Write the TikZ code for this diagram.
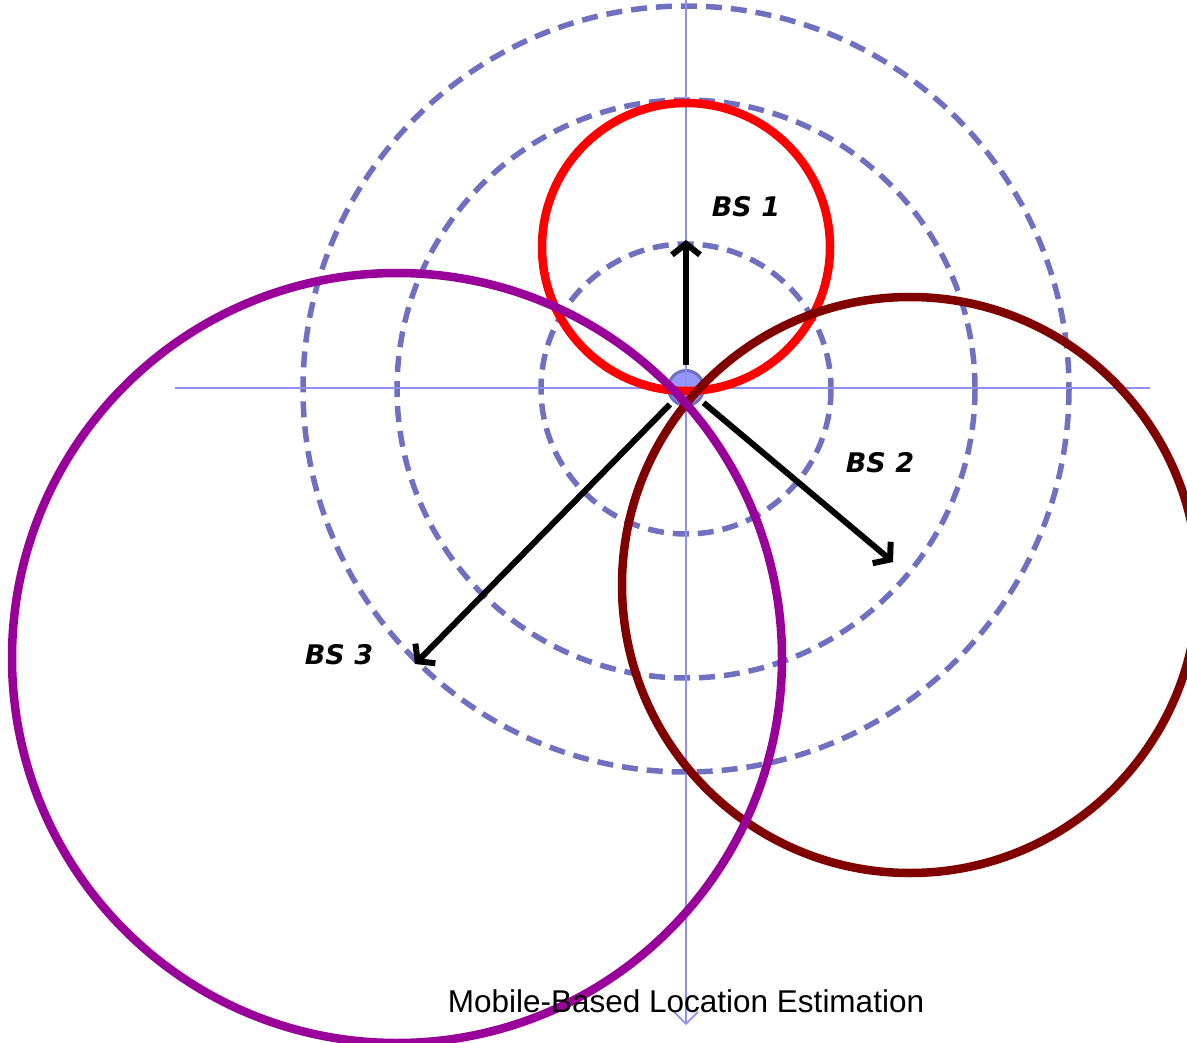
\documentclass[tikz,border=0pt]{standalone}
\usepackage{fontspec}
\setmainfont{Liberation Sans}
\newfontfamily\bsfont{DejaVu Sans}
\usetikzlibrary{arrows.meta,positioning}

\definecolor{ringblue}{RGB}{112,112,192}
\definecolor{axisblue}{RGB}{144,144,240}
\definecolor{dotblue}{RGB}{150,150,250}
\definecolor{bsred}{RGB}{255,0,0}
\definecolor{bsmaroon}{RGB}{128,0,0}
\definecolor{bspurple}{RGB}{153,0,153}

\begin{document}
\begin{tikzpicture}[x=1pt, y=-1pt,
    axis/.style={draw=axisblue, line width=1.6pt},
    ring/.style={draw=ringblue, line width=5.5pt, dash pattern=on 16pt off 9pt},
    bsrange/.style={line width=8.5pt},
    vec/.style={-{Straight Barb[length=11pt,width=28pt]}, line width=6pt, draw=black, shorten <=4pt},
    bslabel/.style={font=\bsfont\bfseries\itshape\fontsize{27}{32}\selectfont},
    title/.style={font=\fontsize{31.5}{36}\selectfont},
]

\useasboundingbox (0,0) rectangle (1187,1043);
\clip (0,0) rectangle (1187,1043);

% Distance rings around the mobile
\draw[ring] (686,389) circle (145);
\draw[ring] (686,389) circle (289);
\draw[ring] (686,389) circle (383);

% Mobile station
\node[circle, draw=ringblue, fill=dotblue, line width=3pt, minimum size=35pt, inner sep=0pt] (ms) at (686,388) {};

% Axes
\coordinate (ytop) at (686,0);
\coordinate (ybot) at (686,1025);
\coordinate (xl) at (175,388);
\coordinate (xr) at (1150,388);
\draw[axis] (xl) -- (xr);
\draw[axis, -{Straight Barb[length=12pt,width=24pt]}] (ytop) -- (ybot);

% Vectors to the base stations
\coordinate (bs1) at (686,240);
\coordinate (bs2) at (893,562);
\coordinate (bs3) at (415,664);
\draw[vec] (ms) -- (bs1);
\draw[vec] (ms) -- (bs2);
\draw[vec] (ms) -- (bs3);

% Range circles of the base stations
\draw[bsrange, draw=bsred] (686,247) circle (144);
\draw[bsrange, draw=bsmaroon] (910,585) circle (288);
\draw[bsrange, draw=bspurple] (397,658) circle (385);

% Labels
\node[bslabel] (l1) at (746,207) {BS 1};
\node[bslabel] (l2) at (880,463) {BS 2};
\node[bslabel] (l3) at (339,655) {BS 3};

\node[title] (cap) at (686,1001) {Mobile-Based Location Estimation};

\end{tikzpicture}
\end{document}
